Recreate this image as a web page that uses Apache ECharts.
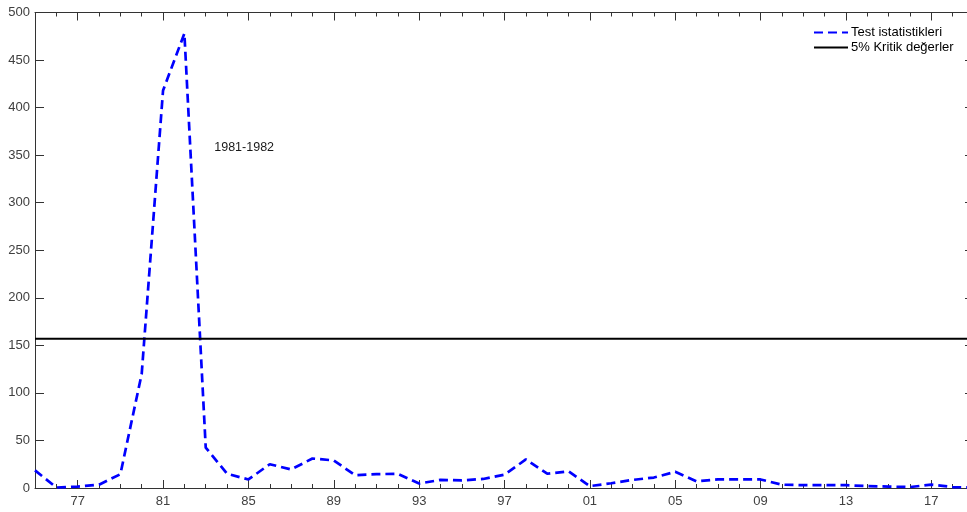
<!DOCTYPE html>
<html>
<head>
<meta charset="utf-8">
<script src="https://cdn.jsdelivr.net/npm/echarts@6/dist/echarts.min.js"></script>
<style>html,body{margin:0;padding:0;background:#fff;}#c{width:967px;height:512px;}</style>
</head>
<body>
<div id="c"></div>
<script>
var years = [1975,1976,1977,1978,1979,1980,1981,1982,1983,1984,1985,1986,1987,1988,1989,1990,1991,1992,1993,1994,1995,1996,1997,1998,1999,2000,2001,2002,2003,2004,2005,2006,2007,2008,2009,2010,2011,2012,2013,2014,2015,2016,2017,2018,2019];
var testStats = [18.5,0.5,1.5,3.5,14.5,120,418,478,42.5,15,9,25,19.5,31,29,13.5,14.5,15,4.7,8.5,8,9.5,14,30,15,17.5,2,5,8.5,11,17,7,9,9,9,3.5,3,3,3,2,1.5,1,3.5,1,0.5];
var criticalYears = [1975, 2019];
var criticalValue = 157;
var majorTickYears = [1977,1981,1985,1989,1993,1997,2001,2005,2009,2013,2017];
var seriesNames = ['Test istatistikleri', '5% Kritik değerler'];
var annotation = {text: '1981-1982', year: 1983.4, value: 358};

var font = 'Liberation Sans, Arial, Helvetica, sans-serif';
var axisColor = '#333333';

function xAxisCfg(pos, major, labels) {
  return {
    type: 'value', min: 1975, max: 2019, position: pos,
    interval: 1,
    axisLine: {show: major, onZero: false, lineStyle: {color: axisColor, width: 1}},
    axisTick: major ? {show: true, inside: true, length: 8, customValues: majorTickYears, lineStyle: {color: axisColor}}
                    : {show: true, inside: true, length: 4, lineStyle: {color: axisColor}},
    axisLabel: labels ? {show: true, customValues: majorTickYears, margin: 7, color: '#404040', fontSize: 13, fontFamily: font,
      formatter: function (v) { return String(v).slice(2); }} : {show: false},
    splitLine: {show: false}
  };
}

var chart = echarts.init(document.getElementById('c'), null, {renderer: 'canvas'});
chart.setOption({
  animation: false,
  backgroundColor: '#ffffff',
  grid: {left: 35, width: 939, top: 12.5, height: 475.5, containLabel: false, outerBoundsMode: 'none'},
  xAxis: [
    xAxisCfg('bottom', true, true),
    xAxisCfg('bottom', false, false),
    xAxisCfg('top', true, false),
    xAxisCfg('top', false, false)
  ],
  yAxis: [
    {type: 'value', min: 0, max: 500, interval: 50, position: 'left',
     axisLine: {show: true, lineStyle: {color: axisColor}},
     axisTick: {show: true, inside: true, length: 9, lineStyle: {color: axisColor}},
     axisLabel: {color: '#404040', fontSize: 13, fontFamily: font, margin: 5},
     splitLine: {show: false}},
    {type: 'value', min: 0, max: 500, interval: 50, position: 'right',
     axisLine: {show: true, lineStyle: {color: axisColor}},
     axisTick: {show: true, inside: true, length: 9, lineStyle: {color: axisColor}},
     axisLabel: {show: false},
     splitLine: {show: false}}
  ],
  legend: {
    orient: 'vertical', left: 813, top: 26, padding: 0,
    itemWidth: 34, itemHeight: 10, itemGap: 2,
    itemStyle: {opacity: 0},
    textStyle: {color: '#000', fontSize: 13, fontFamily: font, padding: [0,0,0,-2]},
    data: seriesNames
  },
  series: [
    {
      name: seriesNames[0], type: 'line', xAxisIndex: 0, yAxisIndex: 0,
      data: years.map(function (y, i) { return [y, testStats[i]]; }),
      symbol: 'none', showSymbol: false,
      lineStyle: {color: '#0000ff', width: 2.7, type: [9, 5]},
      itemStyle: {color: '#0000ff'},
      markPoint: {
        symbol: 'circle', symbolSize: 0,
        data: [{coord: [annotation.year, annotation.value]}],
        label: {show: true, position: 'right', distance: 0, formatter: annotation.text, color: '#1a1a1a', fontSize: 12.5, fontFamily: font}
      }
    },
    {
      name: seriesNames[1], type: 'line', xAxisIndex: 0, yAxisIndex: 0,
      data: criticalYears.map(function (y) { return [y, criticalValue]; }),
      symbol: 'none', showSymbol: false,
      lineStyle: {color: '#000000', width: 2},
      itemStyle: {color: '#000000'}
    }
  ]
});
</script>
</body>
</html>
